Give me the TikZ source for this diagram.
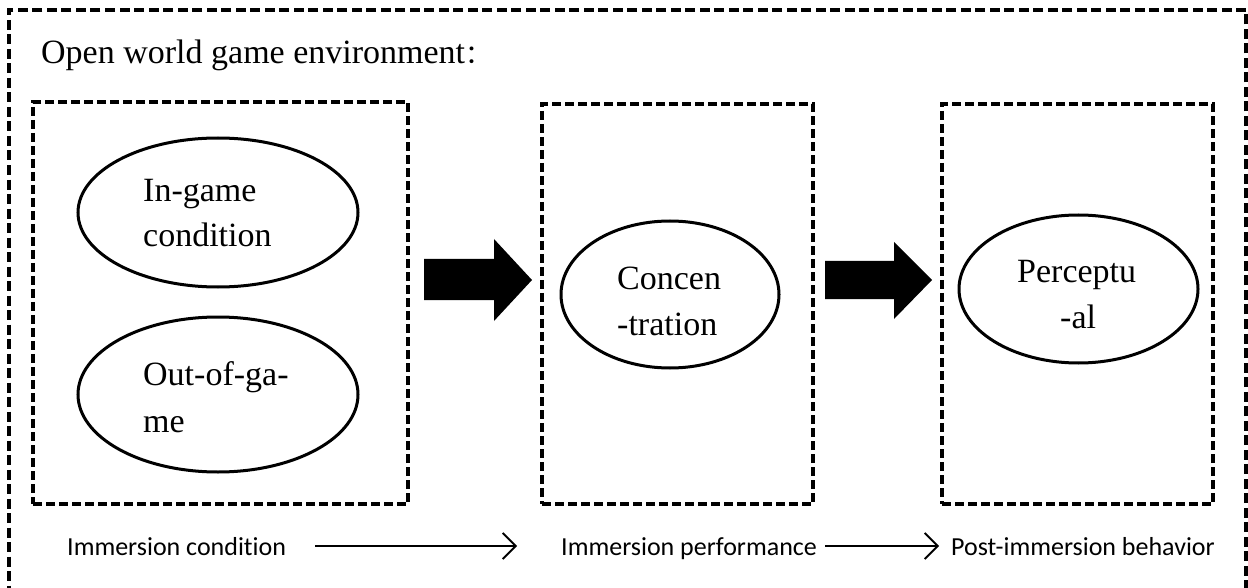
\documentclass[tikz,border=0pt]{standalone}
\usepackage{fontspec}
\setmainfont{Liberation Serif}
\newfontfamily\calib[Ligatures=NoCommon]{Carlito}
\newfontfamily\cjk{Noto Sans CJK SC}
\usetikzlibrary{arrows.meta,shapes.geometric}
\begin{document}
\begin{tikzpicture}[x=1pt,y=-1pt,
  dbox/.style={draw,line width=3.2pt,dash pattern=on 9pt off 4pt,inner sep=0pt},
  ell/.style={draw,ellipse,line width=3pt,inner sep=0pt},
  etxt/.style={inner sep=0pt,anchor=base west,font=\fontsize{34}{40}\selectfont},
  lbl/.style={inner sep=0pt,anchor=base west,font=\calib\fontsize{26}{30}\selectfont,text height=19pt,text depth=1pt},
  thinarrow/.style={line width=1.8pt,-{Straight Barb[length=13pt,width=26pt,line width=1.8pt]}},
  block/.style={fill=black}
]
\useasboundingbox (0,0) rectangle (1248,588);
% outer frame
\node[dbox,dash pattern=on 10pt off 4.5pt,minimum width=1237pt,minimum height=590pt] (outer) at (627.5,305) {};
% title
\node[inner sep=0pt,anchor=base west,font=\fontsize{34}{40}\selectfont] (title) at (41,64) {Open world game environment{\cjk\fontsize{26}{30}\selectfont ：}};
% boxes
\node[dbox,minimum width=375pt,minimum height=402pt] (b1) at (220.5,303) {};
\node[dbox,minimum width=271pt,minimum height=400pt] (b2) at (677.5,304) {};
\node[dbox,minimum width=271pt,minimum height=400pt] (b3) at (1077.5,304) {};
% ellipses
\node[ell,minimum width=280pt,minimum height=149pt] (e1) at (218,212.5) {};
\node[ell,minimum width=280pt,minimum height=155pt] (e2) at (218,394.5) {};
\node[ell,minimum width=218pt,minimum height=147pt] (e3) at (670,294.5) {};
\node[ell,minimum width=239pt,minimum height=148pt] (e4) at (1078.5,289) {};
% ellipse texts
\node[etxt] (t1a) at (143,202) {In-game};
\node[etxt] (t1b) at (143,247) {condition};
\node[etxt] (t2a) at (143,385) {Out-of-ga-};
\node[etxt] (t2b) at (143,432) {me};
\node[etxt] (t3a) at (617,290) {Concen};
\node[etxt] (t3b) at (617,335) {-tration};
\node[etxt] (t4a) at (1017,283) {Perceptu};
\node[etxt] (t4b) at (1060,328) {-al};
% block arrows
\fill[block] (424,259) -- (494,259) -- (494,239) -- (532,280) -- (494,321) -- (494,300) -- (424,300) -- cycle;
\fill[block] (825,261) -- (894,261) -- (894,242) -- (932,280) -- (894,319) -- (894,299) -- (825,299) -- cycle;
% bottom labels
\node[lbl] (l1) at (67,555) {Immersion condition};
\node[lbl] (l2) at (561,555) {Immersion performance};
\node[lbl] (l3) at (951,555) {Post-immersion behavior};
\draw[thinarrow,shorten <=29pt,shorten >=44pt] (l1.east) -- (l2.west);
\draw[thinarrow,line width=2.2pt,shorten <=8pt,shorten >=12pt] (l2.east) -- (l3.west);
\end{tikzpicture}
\end{document}
